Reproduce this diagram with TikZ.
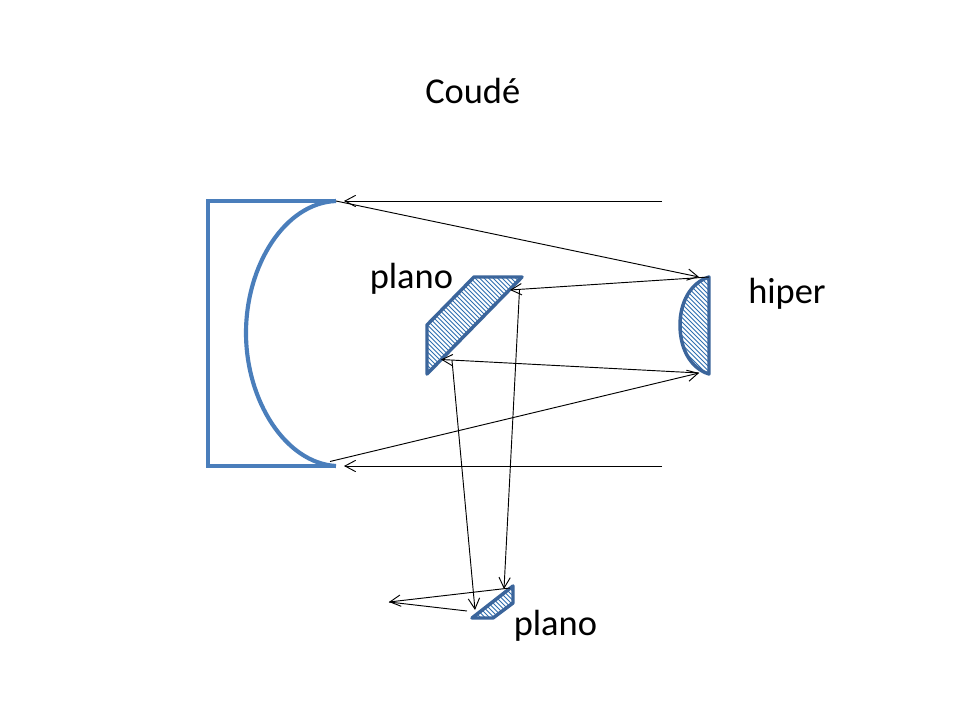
\documentclass[tikz,border=0pt]{standalone}
\usepackage{fontspec}
\setmainfont{Carlito}
\usetikzlibrary{arrows.meta}
\definecolor{mirrorblue}{HTML}{4A7EBB}
\definecolor{edgeblue}{HTML}{3B659B}
\definecolor{hatchblue}{HTML}{2F6FB0}
\tikzset{
  x=0.75pt,y=-0.75pt,
  label text/.style={font=\fontsize{27.3pt}{32pt}\selectfont,inner sep=0pt,anchor=base west,text=black},
  ray/.style={draw=black,line width=0.7pt,-{Straight Barb[length=8pt,width=8.5pt,line width=0.7pt]}},
  plainray/.style={draw=black,line width=0.7pt},
  mirror/.style={draw=mirrorblue,line width=3.1pt,line join=miter},
  optic/.style={draw=edgeblue,line width=2.6pt,line join=round},
  hatchline/.style={draw=hatchblue,line width=0.6pt},
}
\newcommand{\hatchfill}[4]{% x-min, x-max, y-min, y-max: lines running down to the right
  \pgfmathsetmacro{\hstart}{#1-#4}
  \pgfmathsetmacro{\hend}{#2-#3}
  \pgfmathsetmacro{\hnext}{\hstart+4.5}
  \foreach \c in {\hstart,\hnext,...,\hend}{
    \draw[hatchline] (\c+#3,#3) -- (\c+#4,#4);
  }
}
\begin{document}
\begin{tikzpicture}
\useasboundingbox (0,0) rectangle (960,720);
\fill[white] (0,0) rectangle (960,720);

% points on the optics
\coordinate (mt) at (336,201);
\coordinate (mtin) at (344,201);
\coordinate (mb) at (336,466);
\coordinate (mbin) at (344,466);
\coordinate (inT) at (662,201);
\coordinate (inB) at (662,466);
\coordinate (hT) at (699,277);
\coordinate (hTs) at (709,277);
\coordinate (hB) at (699,373);
\coordinate (pU) at (510,290);
\coordinate (pUs) at (519.5,290);
\coordinate (pL) at (441,359.5);
\coordinate (pLs) at (452,360.5);
\coordinate (sU) at (504,589);
\coordinate (sL) at (475,610);
\coordinate (sLs) at (467,611);
\coordinate (sUs) at (510,588);
\coordinate (out) at (389,602);
\coordinate (mbs) at (330,461.5);

% hatched optics
\begin{scope}
  \clip (474,277) -- (522,277) -- (427,374) -- (427,325) -- cycle;
  \hatchfill{427}{522}{277}{374}
\end{scope}
\begin{scope}
  \clip (709,277) .. controls (690,283) and (680,303) .. (680,325) .. controls (680,348) and (690,368) .. (709,374) -- cycle;
  \hatchfill{680}{709}{277}{374}
\end{scope}
\begin{scope}
  \clip (513,586) -- (513,603) -- (493,618) -- (472,618) -- cycle;
  \hatchfill{472}{513}{586}{618}
\end{scope}
\draw[optic] (474,277) -- (522,277) -- (427,374) -- (427,325) -- cycle;
\draw[optic] (709,277) .. controls (690,283) and (680,303) .. (680,325) .. controls (680,348) and (690,368) .. (709,374) -- cycle;
\draw[optic] (513,586) -- (513,603) -- (493,618) -- (472,618) -- cycle;

% primary mirror
\draw[mirror] (mt) -- (208,201) -- (208,466) -- (mb);
\draw[mirror] (mt) .. controls (285,203) and (246,265) .. (246,333) .. controls (246,400) and (285,463) .. (mb);

% rays
\draw[ray] (inT) -- (mtin);
\draw[ray] (mt) -- (hT);
\draw[ray] (hTs) -- (pU);
\draw[ray] (pUs) -- (sU);
\draw[ray] (inB) -- (mbin);
\draw[ray] (mbs) -- (hB);
\draw[ray] (hB) -- (pL);
\draw[ray] (pLs) -- (sL);
\draw[ray] (sUs) -- (out);
\draw[plainray] (sLs) -- (out);

% labels
\node[label text] (title) at (425,104) {Coudé};
\node[label text] (plano1) at (369.5,288) {plano};
\node[label text] (hiper) at (748,303) {hiper};
\node[label text] (plano2) at (513.5,635) {plano};
\end{tikzpicture}
\end{document}
